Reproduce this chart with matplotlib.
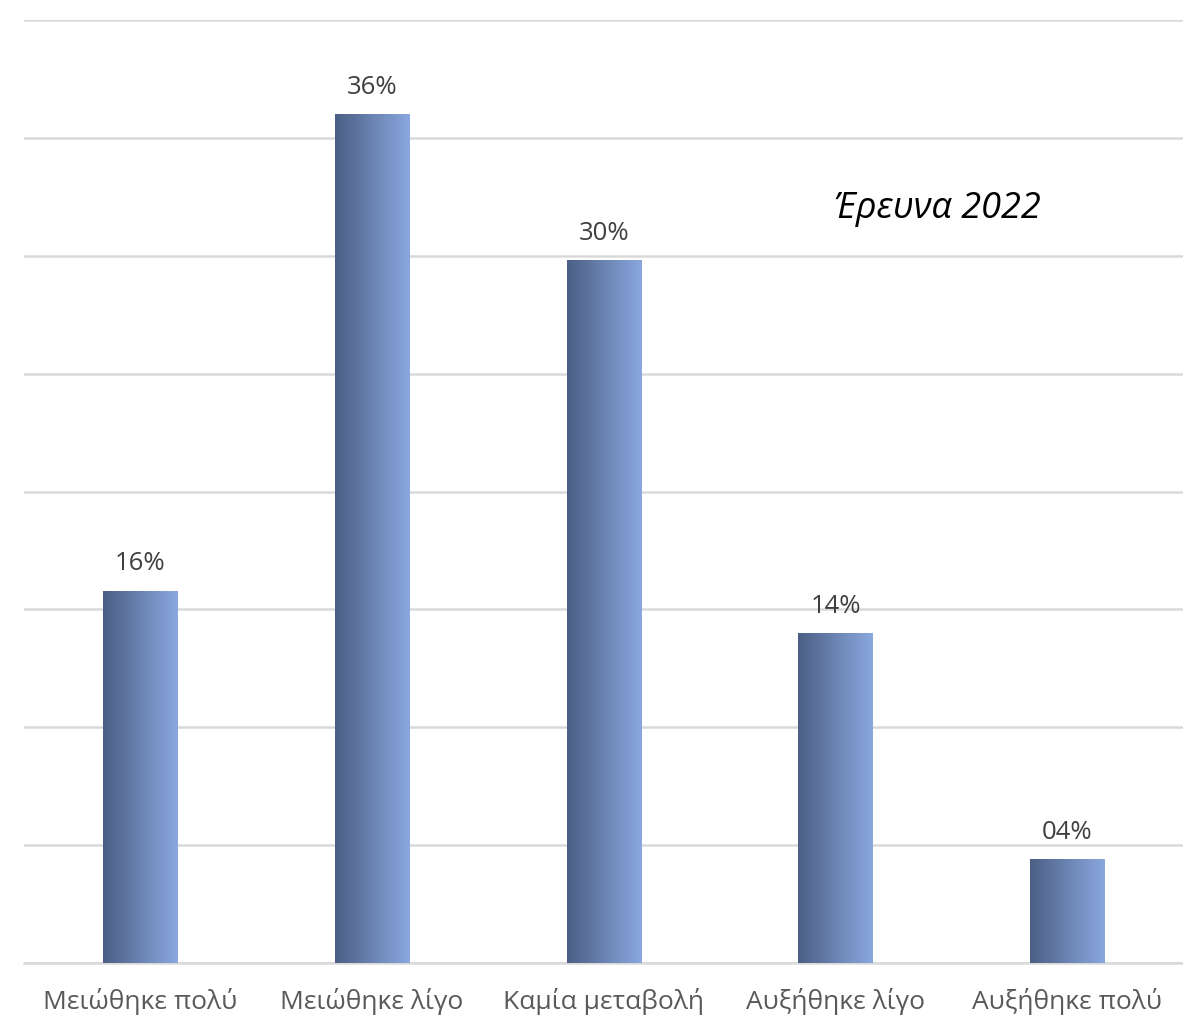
import matplotlib.pyplot as plt
import numpy as np
from matplotlib.colors import LinearSegmentedColormap

categories = ['Μειώθηκε πολύ', 'Μειώθηκε λίγο', 'Καμία μεταβολή', 'Αυξήθηκε λίγο', 'Αυξήθηκε πολύ']
values = [15.8, 36.0, 29.8, 14.0, 4.4]
labels = ['16%', '36%', '30%', '14%', '04%']

plt.rcParams['font.family'] = ['Open Sans', 'DejaVu Sans']

fig = plt.figure(figsize=(11.83, 10.17), dpi=100)
ax = fig.add_axes([0.0203, 0.0531, 0.98, 0.9272])

grad = LinearSegmentedColormap.from_list('bar', ['#4b5f84', '#8aa8df'])
gradient = np.linspace(0, 1, 256).reshape(1, -1)

width = 0.32
x = np.arange(len(categories))
bars = ax.bar(x, values, width=width, color='none', zorder=3)
for b, lab in zip(bars, labels):
    x0, h = b.get_x(), b.get_height()
    im = ax.imshow(gradient, cmap=grad, aspect='auto', zorder=3,
                   extent=(x0, x0 + width, 0, h), interpolation='bilinear')
    im.set_clip_path(b)
    ax.text(x0 + width / 2, h + 0.6, lab, ha='center', va='bottom',
            fontsize=18.5, color='#404040')

ax.set_xlim(-0.5, 4.5)
ax.set_ylim(0, 40)
ax.set_yticks(np.arange(0, 41, 5))
ax.yaxis.grid(True, color='#d9d9d9', linewidth=1.8, zorder=0)
ax.tick_params(axis='y', left=False, labelleft=False)
ax.tick_params(axis='x', length=0, pad=18, labelsize=19, labelcolor='#595959')
ax.set_xticks(x)
ax.set_xticklabels(categories)
for s in ['top', 'right', 'left']:
    ax.spines[s].set_visible(False)
ax.spines['bottom'].set_color('#d9d9d9')
ax.spines['bottom'].set_linewidth(1.8)

ax.text(3.44, 32.0, 'Έρευνα 2022', fontsize=26, style='italic', weight='medium',
        color='black', ha='center', va='center')

fig.savefig('out.png', dpi=100)
